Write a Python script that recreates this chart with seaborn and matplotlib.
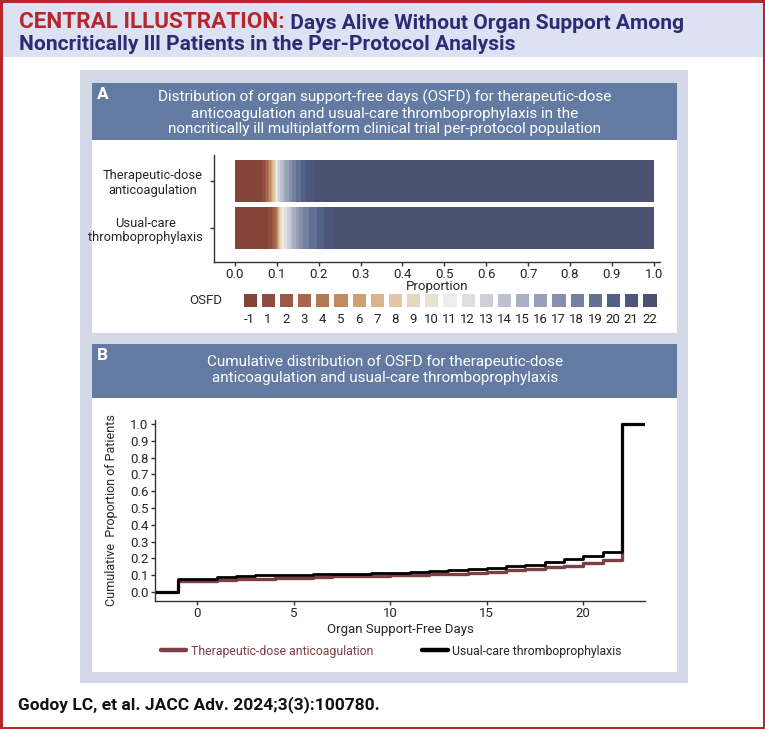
import numpy as np
import pandas as pd
import matplotlib
matplotlib.use("Agg")
import matplotlib.pyplot as plt
import seaborn as sns
from matplotlib.patches import Rectangle
from matplotlib.colors import ListedColormap
from matplotlib.lines import Line2D
from matplotlib.text import Annotation

# ---------------- data ----------------
osfd_days = [-1, 1, 2, 3, 4, 5, 6, 7, 8, 9, 10, 11, 12, 13, 14, 15, 16, 17, 18, 19, 20, 21, 22]
arms = ["Therapeutic-dose\nanticoagulation", "Usual-care\nthromboprophylaxis"]
cum_tda = [0.065, 0.071, 0.075, 0.079, 0.082, 0.085, 0.088, 0.092, 0.095, 0.097, 0.099, 0.101,
           0.104, 0.108, 0.114, 0.119, 0.128, 0.136, 0.146, 0.157, 0.170, 0.190, 1.0]
cum_uc = [0.080, 0.089, 0.094, 0.098, 0.100, 0.102, 0.104, 0.106, 0.108, 0.111, 0.114, 0.118,
          0.124, 0.131, 0.137, 0.145, 0.152, 0.162, 0.176, 0.195, 0.213, 0.235, 1.0]
osfd_colors = ["#844539", "#8E4D3E", "#9A5944", "#A6674C", "#B37855", "#C08B62", "#CDA072",
               "#D7B489", "#E1C7A5", "#E6D6BF", "#E9E1D5", "#EDEDED", "#DDDEE4", "#CDD0DA",
               "#BCC1CF", "#A9B0C4", "#97A0B8", "#8490AC", "#73809F", "#627093", "#546187",
               "#4C577B", "#4B5170"]
prop_ticks = [0.0, 0.1, 0.2, 0.3, 0.4, 0.5, 0.6, 0.7, 0.8, 0.9, 1.0]
cum_ticks = [0.0, 0.1, 0.2, 0.3, 0.4, 0.5, 0.6, 0.7, 0.8, 0.9, 1.0]
day_ticks = [0, 5, 10, 15, 20]
series_names = ["Therapeutic-dose anticoagulation", "Usual-care thromboprophylaxis"]

# ---------------- style ----------------
sns.set_style("ticks")
FONT = ["Roboto", "DejaVu Sans"]
plt.rcParams["font.family"] = FONT
FS = 9.5

W, H = 765, 729
fig = plt.figure(figsize=(W / 100, H / 100), dpi=100)
fig.patch.set_facecolor("white")

RED = "#B5272D"
NAVY = "#2B2C76"
BAND = "#637BA3"
FRAME = "#D3D8E6"
HEAD = "#DDE2F2"
MAROON = "#7E3E45"
AXC = "#333333"


def rect_px(x0, y0, x1, y1, color, z=-10):
    r = Rectangle((x0 / W, 1 - y1 / H), (x1 - x0) / W, (y1 - y0) / H,
                  transform=fig.transFigure, facecolor=color, edgecolor="none", zorder=z)
    fig.patches.append(r)
    return r


def ax_px(x0, y0, x1, y1):
    return fig.add_axes([x0 / W, 1 - y1 / H, (x1 - x0) / W, (y1 - y0) / H])


def fx(x):
    return x / W


def fy(y):
    return 1 - y / H


# backgrounds
rect_px(2, 2, 763, 57, HEAD)
rect_px(80, 70, 688, 683, FRAME)
rect_px(92, 83, 677, 140, BAND, z=-9)
rect_px(92, 140, 677, 333, "white", z=-9)
rect_px(92, 344, 677, 398, BAND, z=-9)
rect_px(92, 398, 677, 672, "white", z=-9)
border = Rectangle((0.0015, 0.0015), 0.997, 0.997, transform=fig.transFigure,
                   facecolor="none", edgecolor=RED, linewidth=2.2, zorder=20)
fig.patches.append(border)

# header title
t1 = fig.text(fx(19), fy(28), "CENTRAL ILLUSTRATION:", color=RED, fontsize=16.2,
              fontweight="bold", ha="left", va="baseline")
fig.add_artist(Annotation(" Days Alive Without Organ Support Among", xy=(1, 0), xycoords=t1,
                          color=NAVY, fontsize=15.1, fontweight="bold", ha="left", va="bottom"))
fig.text(fx(19), fy(50), "Noncritically Ill Patients in the Per-Protocol Analysis", color=NAVY,
         fontsize=15.1, fontweight="bold", ha="left", va="baseline")

# panel headers
fig.text(fx(97), fy(99), "A", color="white", fontsize=12.5, fontweight="bold",
         ha="left", va="baseline")
fig.text(fx(385), fy(113), "Distribution of organ support-free days (OSFD) for therapeutic-dose\n"
         "anticoagulation and usual-care thromboprophylaxis in the\n"
         "noncritically ill multiplatform clinical trial per-protocol population",
         color="white", fontsize=11, ha="center", va="center", linespacing=1.15)
fig.text(fx(97), fy(360), "B", color="white", fontsize=12.5, fontweight="bold",
         ha="left", va="baseline")
fig.text(fx(385), fy(370), "Cumulative distribution of OSFD for therapeutic-dose\n"
         "anticoagulation and usual-care thromboprophylaxis",
         color="white", fontsize=11, ha="center", va="center", linespacing=1.15)

# ---------------- panel A: stacked bars ----------------
axA = ax_px(214, 155, 660, 262)
axA.set_facecolor("none")
axA.set_zorder(3)
for k in reversed(range(len(osfd_days))):
    sns.barplot(x=[cum_tda[k], cum_uc[k]], y=arms, orient="h", color=osfd_colors[k],
                saturation=1, width=0.9, linewidth=0, ax=axA)
axA.set_xlim(-0.05, 1.015)
axA.set_ylim(1.72, -0.55)
axA.set_xticks(prop_ticks)
axA.set_xticklabels([f"{v:.1f}" for v in prop_ticks])
axA.set_xlabel("Proportion", fontsize=FS, labelpad=-0.5)
axA.set_ylabel("")
axA.tick_params(axis="both", labelsize=FS, length=3, width=1, color=AXC, pad=1.2)
for lab in axA.get_yticklabels():
    lab.set_horizontalalignment("right")
    lab.set_multialignment("center")
    lab.set_linespacing(1.15)
axA.tick_params(axis="y", pad=5, labelsize=9.3)
sns.despine(ax=axA)
for s in ("left", "bottom"):
    axA.spines[s].set_color(AXC)
    axA.spines[s].set_linewidth(1)

# OSFD legend as heatmap row
axL = ax_px(240.5, 290.5, 658.5, 308.5)
axL.set_zorder(1)
sns.heatmap(np.arange(len(osfd_days)).reshape(1, -1), cmap=ListedColormap(osfd_colors),
            cbar=False, linewidths=3.6, linecolor="white", xticklabels=osfd_days,
            yticklabels=False, ax=axL)
axL.tick_params(axis="x", length=0, labelsize=FS, pad=3, rotation=0)
fig.text(fx(222), fy(300), "OSFD", fontsize=FS, ha="right", va="center")

# ---------------- panel B: cumulative step curves ----------------
XMIN, XMAX = -2.2, 23.2
axB = ax_px(155, 420, 645, 601)
axB.set_facecolor("none")
for cum, color, lw in [(cum_tda, MAROON, 2.4), (cum_uc, "black", 2.0)]:
    df = pd.DataFrame({"day": [XMIN] + osfd_days + [XMAX],
                       "cum": [0.0] + cum + [cum[-1]]})
    sns.lineplot(data=df, x="day", y="cum", drawstyle="steps-post", color=color,
                 linewidth=lw, ax=axB, legend=False)
axB.set_xlim(XMIN, XMAX)
axB.set_ylim(-0.054, 1.024)
axB.set_xticks(day_ticks)
axB.set_yticks(cum_ticks)
axB.set_yticklabels([f"{v:.1f}" for v in cum_ticks])
axB.set_xlabel("Organ Support-Free Days", fontsize=FS, labelpad=2)
axB.set_ylabel("Cumulative  Proportion of Patients", fontsize=9.0, labelpad=9)
axB.tick_params(axis="both", labelsize=FS, length=3, width=1, color=AXC, pad=1.5)
sns.despine(ax=axB)
for s in ("left", "bottom"):
    axB.spines[s].set_color(AXC)
    axB.spines[s].set_linewidth(1)

handles = [Line2D([], [], color=MAROON, lw=3.2), Line2D([], [], color="black", lw=3.2)]
leg = fig.legend(handles, series_names, loc="center", bbox_to_anchor=(fx(391), fy(651)),
                 ncol=2, frameon=False, fontsize=8.8, handlelength=2.1, columnspacing=4.0,
                 handletextpad=0.35)
leg.get_texts()[0].set_color(MAROON)

# footer
fig.text(fx(18), fy(709), "Godoy LC, et al. JACC Adv. 2024;3(3):100780.", fontsize=12.5,
         fontweight="bold", ha="left", va="baseline", color="#111111")

fig.savefig("out.png", dpi=100)
